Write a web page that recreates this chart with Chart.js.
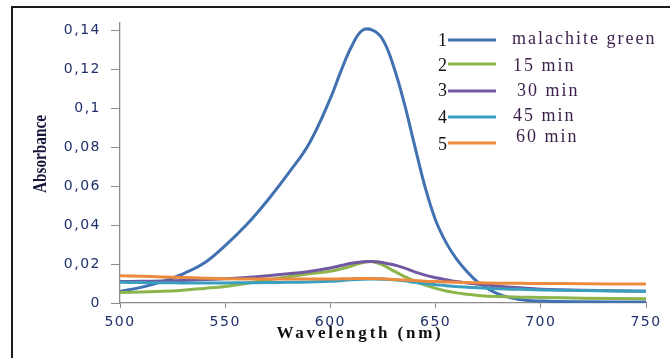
<!DOCTYPE html>
<html>
<head>
<meta charset="utf-8">
<script src="https://cdn.jsdelivr.net/npm/chart.js@4"></script>
<style>
  html, body { margin: 0; padding: 0; background: #fff; }
  #wrap { width: 670px; height: 358px; position: relative; }
</style>
</head>
<body>
<div id="wrap"><canvas id="myChart" width="670" height="358"></canvas></div>
<script>
// wavelengths (nm)
const wavelengths = [500, 510, 520, 530, 540, 550, 560, 570, 580, 590, 600, 605, 610, 615, 620, 625, 630, 635, 640, 645, 650, 655, 660, 665, 670, 680, 690, 700, 720, 750];

const malachite = [0.0059, 0.0080, 0.0110, 0.0150, 0.0205, 0.0295, 0.0400, 0.0525, 0.0665, 0.0820, 0.1050, 0.1190, 0.1315, 0.1398, 0.1400, 0.1350, 0.1215, 0.1030, 0.0810, 0.0595, 0.0425, 0.0310, 0.0225, 0.0160, 0.0108, 0.0045, 0.0018, 0.0010, 0.0006, 0.0005];
const min15 = [0.0054, 0.0057, 0.0060, 0.0066, 0.0075, 0.0085, 0.0100, 0.0118, 0.0135, 0.0150, 0.0163, 0.0175, 0.0190, 0.0207, 0.0212, 0.0195, 0.0165, 0.0137, 0.0112, 0.0092, 0.0075, 0.0062, 0.0052, 0.0045, 0.0039, 0.0033, 0.0030, 0.0028, 0.0025, 0.0022];
const min30 = [0.0110, 0.0111, 0.0113, 0.0116, 0.0120, 0.0125, 0.0131, 0.0140, 0.0150, 0.0162, 0.0180, 0.0192, 0.0204, 0.0211, 0.0213, 0.0207, 0.0196, 0.0180, 0.0160, 0.0143, 0.0130, 0.0120, 0.0110, 0.0102, 0.0096, 0.0086, 0.0078, 0.0071, 0.0065, 0.0060];
const min45 = [0.0106, 0.0105, 0.0104, 0.0103, 0.0103, 0.0103, 0.0104, 0.0105, 0.0106, 0.0108, 0.0111, 0.0115, 0.0119, 0.0122, 0.0123, 0.0122, 0.0119, 0.0114, 0.0106, 0.0099, 0.0094, 0.0089, 0.0085, 0.0081, 0.0078, 0.0073, 0.0070, 0.0067, 0.0064, 0.0060];
const min60 = [0.0140, 0.0137, 0.0134, 0.0131, 0.0127, 0.0124, 0.0123, 0.0123, 0.0123, 0.0123, 0.0123, 0.0124, 0.0125, 0.0126, 0.0126, 0.0124, 0.0121, 0.0118, 0.0115, 0.0112, 0.0110, 0.0108, 0.0106, 0.0105, 0.0104, 0.0102, 0.0101, 0.0100, 0.0099, 0.0097];

const seriesNames = ["malachite green", "15 min", "30 min", "45 min", "60 min"];
const seriesNumbers = ["1", "2", "3", "4", "5"];
const seriesValues = [malachite, min15, min30, min45, min60];
const colors = ["#4171b0", "#8cb54c", "#7158a0", "#3a9fbf", "#ec8a3e"];

const xTicks = [500, 550, 600, 650, 700, 750];
const yTicks = [0, 0.02, 0.04, 0.06, 0.08, 0.1, 0.12, 0.14];

function toPoints(values) {
  return wavelengths.map((w, i) => ({ x: w, y: values[i] }));
}

const datasets = seriesValues.map((vals, i) => ({
  label: seriesNames[i],
  data: toPoints(vals),
  borderColor: colors[i],
  backgroundColor: colors[i],
  borderWidth: 3,
  pointRadius: 0,
  tension: 0.4,
  order: seriesValues.length - i, // last series on top, like the original
}));

// frame, axis titles and the numbered legend
const decor = {
  id: "decor",
  beforeDraw(chart) {
    chart.ctx.letterSpacing = "1.5px";
  },
  afterDraw(chart) {
    const ctx = chart.ctx;
    ctx.save();
    ctx.letterSpacing = "0px";

    ctx.strokeStyle = "#1a1a1a";
    ctx.lineWidth = 2;
    ctx.beginPath();
    ctx.moveTo(12, 358);
    ctx.lineTo(12, 7);
    ctx.lineTo(670, 7);
    ctx.stroke();

    // y title
    ctx.save();
    ctx.translate(41, 154);
    ctx.rotate(-Math.PI / 2);
    ctx.font = 'bold 18px "Liberation Serif"';
    ctx.fillStyle = "#15153a";
    ctx.textAlign = "center";
    ctx.textBaseline = "middle";
    ctx.fillText("Absorbance", 0, 0, 78);
    ctx.restore();

    // x title
    ctx.font = 'bold 17px "Liberation Serif"';
    ctx.letterSpacing = "2.8px";
    ctx.fillStyle = "#111";
    ctx.textAlign = "center";
    ctx.textBaseline = "middle";
    ctx.fillText("Wavelength (nm)", 360, 334);

    // legend
    const lineY = [40, 64, 91, 117, 143];
    const numY = [41, 66, 91, 118, 145];
    const textY = [39, 66, 91, 116, 137];
    const textX = [512, 513, 517, 513, 516];
    chart.data.datasets.forEach((ds, i) => {
      ctx.letterSpacing = "0px";
      ctx.font = '18px "Liberation Serif"';
      ctx.fillStyle = "#111";
      ctx.textAlign = "right";
      ctx.fillText(seriesNumbers[i], 447, numY[i]);

      ctx.strokeStyle = ds.borderColor;
      ctx.lineWidth = 3;
      ctx.beginPath();
      ctx.moveTo(448, lineY[i]);
      ctx.lineTo(496, lineY[i]);
      ctx.stroke();

      ctx.font = '18px "Liberation Serif"';
      ctx.letterSpacing = "2px";
      ctx.fillStyle = "#3a1f4a";
      ctx.textAlign = "left";
      ctx.fillText(ds.label, textX[i], textY[i]);
    });
    ctx.restore();
  },
};

const tickFont = { family: '"DejaVu Sans"', size: 14 };
const tickColor = "#20306a";

const myChart = new Chart(document.querySelector("#myChart").getContext("2d"), {
  type: "line",
  data: { datasets: datasets },
  options: {
    responsive: false,
    animation: false,
    devicePixelRatio: 1,
    layout: { padding: { top: 23, right: 24, left: 0, bottom: 0 } },
    plugins: { legend: { display: false }, tooltip: { enabled: false } },
    scales: {
      x: {
        type: "linear",
        min: xTicks[0],
        max: xTicks[xTicks.length - 1],
        afterBuildTicks: (s) => { s.ticks = xTicks.map((v) => ({ value: v })); },
        afterFit: (s) => { s.height = 55; },
        grid: { drawOnChartArea: false, drawTicks: true, tickLength: 5, color: "#8c8c8c" },
        border: { color: "#8c8c8c", width: 1.3 },
        ticks: { font: tickFont, color: tickColor, padding: 6, maxRotation: 0 },
      },
      y: {
        type: "linear",
        min: 0,
        max: 0.1437,
        afterBuildTicks: (s) => { s.ticks = yTicks.map((v) => ({ value: v })); },
        afterFit: (s) => { s.width = 120; },
        grid: { drawOnChartArea: false, drawTicks: true, tickLength: 9, color: "#8c8c8c" },
        border: { color: "#8c8c8c", width: 1.3 },
        ticks: {
          font: tickFont,
          color: tickColor,
          padding: 10,
          callback: (v) => String(Math.round(v * 100) / 100).replace(".", ","),
        },
      },
    },
  },
  plugins: [decor],
});
</script>
</body>
</html>
